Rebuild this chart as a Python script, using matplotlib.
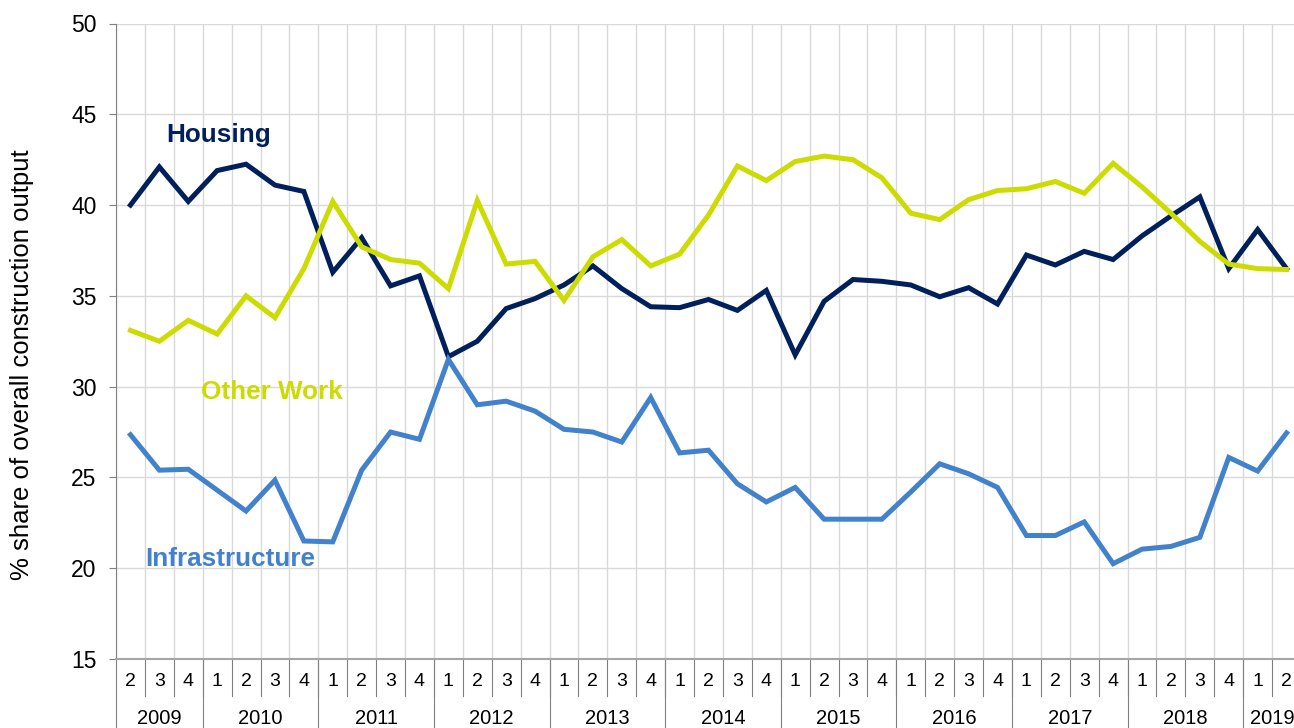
import numpy as np
import matplotlib
matplotlib.use("Agg")
import matplotlib.pyplot as plt
from matplotlib.transforms import blended_transform_factory

plt.rcParams["font.family"] = ["Liberation Sans", "DejaVu Sans"]

# ── Data: quarterly share of construction output (%), 2009 Q2 – 2019 Q2 ──────
years    = ["2009", "2010", "2011", "2012", "2013", "2014", "2015", "2016", "2017", "2018", "2019"]
quarters = [2, 3, 4] + [1, 2, 3, 4] * 9 + [1, 2]
year_len = [3, 4, 4, 4, 4, 4, 4, 4, 4, 4, 2]

housing = [40.0, 42.1, 40.2, 41.9, 42.25, 41.1, 40.75,
           36.3, 38.2, 35.55, 36.1,
           31.65, 32.5, 34.3, 34.85,
           35.6, 36.65, 35.4, 34.4,
           34.35, 34.8, 34.2, 35.3,
           31.75, 34.7, 35.9, 35.8,
           35.6, 34.95, 35.45, 34.55,
           37.25, 36.7, 37.45, 37.0,
           38.3, 39.4, 40.45, 36.5,
           38.65, 36.5]

other_work = [33.1, 32.5, 33.65, 32.9, 35.0, 33.8, 36.5,
              40.2, 37.7, 37.0, 36.8,
              35.4, 40.25, 36.75, 36.9,
              34.75, 37.15, 38.1, 36.65,
              37.3, 39.45, 42.15, 41.35,
              42.4, 42.7, 42.5, 41.5,
              39.55, 39.2, 40.3, 40.8,
              40.9, 41.3, 40.65, 42.3,
              41.0, 39.55, 38.0, 36.75,
              36.5, 36.45]

infrastructure = [27.35, 25.4, 25.45, 24.3, 23.15, 24.85, 21.5,
                  21.45, 25.4, 27.5, 27.1,
                  31.5, 29.0, 29.2, 28.65,
                  27.65, 27.5, 26.95, 29.4,
                  26.35, 26.5, 24.65, 23.65,
                  24.45, 22.7, 22.7, 22.7,
                  24.2, 25.75, 25.2, 24.45,
                  21.8, 21.8, 22.55, 20.25,
                  21.05, 21.2, 21.7, 26.1,
                  25.35, 27.45]

C_HOUSING = "#00205B"
C_OTHER   = "#CCDB00"
C_INFRA   = "#4281CC"

# ── Figure ───────────────────────────────────────────────────────────────────
W, H = 1294, 728
fig = plt.figure(figsize=(W / 100, H / 100), dpi=100)
left, right, top, bottom = 116, 1301, 23.5, 659
ax = fig.add_axes([left / W, (H - bottom) / H, (right - left) / W, (bottom - top) / H])

x = np.arange(len(quarters))
ax.plot(x, housing, color=C_HOUSING, linewidth=3.6, solid_joinstyle="miter", zorder=3)
ax.plot(x, other_work, color=C_OTHER, linewidth=3.6, solid_joinstyle="miter", zorder=3)
ax.plot(x, infrastructure, color=C_INFRA, linewidth=3.6, solid_joinstyle="miter", zorder=3)

ax.set_xlim(-0.5, len(quarters) - 0.5)
ax.set_ylim(15, 50)
ax.set_yticks(np.arange(15, 51, 5))
ax.tick_params(axis="y", labelsize=16.5, length=5, color="#808080", pad=9)
ax.set_xticks([])
ax.set_xticks(np.arange(-0.5, len(quarters), 1), minor=True)
ax.tick_params(axis="x", which="minor", length=0, labelbottom=False)
ax.grid(True, axis="y", color="#d9d9d9", linewidth=1)
ax.grid(True, axis="x", which="minor", color="#d9d9d9", linewidth=1)
ax.set_axisbelow(True)

for side in ["top", "right"]:
    ax.spines[side].set_visible(False)
ax.spines["left"].set_color("#808080")
ax.spines["bottom"].set_color("#a6a6a6")
ax.spines["bottom"].set_linewidth(1.5)

fig.text(22 / W, 1 - 365 / H, "% share of overall construction output",
         rotation=90, ha="center", va="center", fontsize=18.5)

# ── Two-level category axis ──────────────────────────────────────────────────
trans = blended_transform_factory(ax.transData, ax.transAxes)
px = 1.0 / (bottom - top)
for i, q in enumerate(quarters):
    ax.text(i, -22 * px, str(q), transform=trans, ha="center", va="center", fontsize=14)
    if i > 0:
        ax.plot([i - 0.5, i - 0.5], [0, -37 * px], transform=trans, color="#808080",
                linewidth=0.8, clip_on=False)

start = 0
bounds = [-0.5]
for yr, n in zip(years, year_len):
    ax.text(start + (n - 1) / 2, -59.5 * px, yr, transform=trans, ha="center", va="center",
            fontsize=14.5)
    start += n
    bounds.append(start - 0.5)
for b in bounds:
    ax.plot([b, b], [0, -70 * px], transform=trans, color="#808080",
            linewidth=0.8, clip_on=False)

# ── Series labels ────────────────────────────────────────────────────────────
ax.text(1.25, 43.85, "Housing", color=C_HOUSING, fontsize=18.8, fontweight="bold",
        ha="left", va="center")
ax.text(2.45, 29.7, "Other Work", color=C_OTHER, fontsize=18.8, fontweight="bold",
        ha="left", va="center")
ax.text(0.5, 20.5, "Infrastructure", color=C_INFRA, fontsize=18.8, fontweight="bold",
        ha="left", va="center")

fig.savefig("out.png", dpi=100)
